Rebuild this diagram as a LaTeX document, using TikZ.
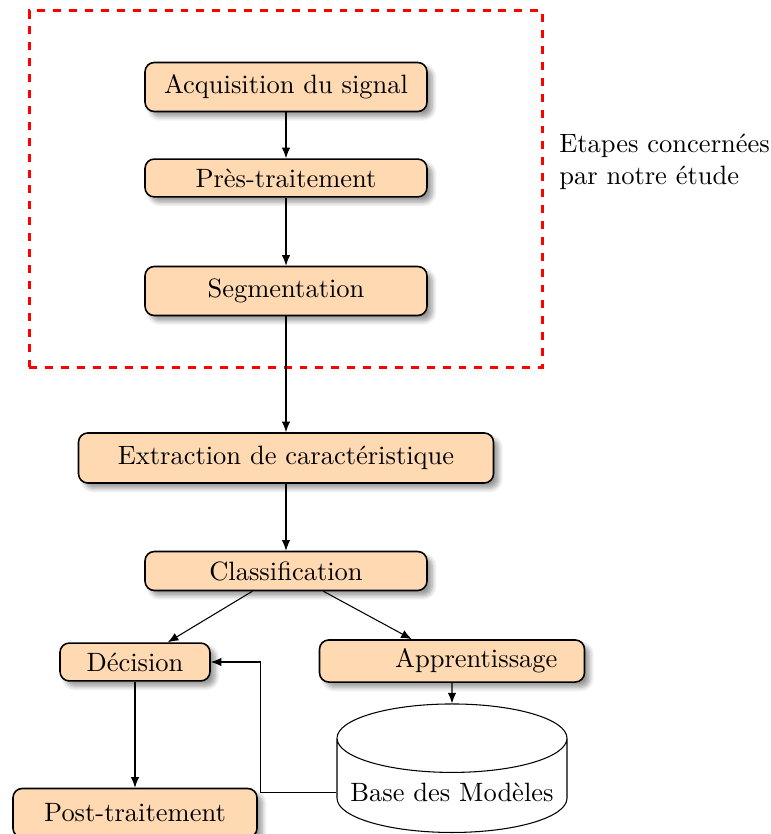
\documentclass[tikz,border=0pt]{standalone}
\usepackage{amsmath,amssymb}
\usepackage{tikz}
\usetikzlibrary{calc,arrows.meta,fit,shapes.geometric,shadows.blur}

\tikzset{
  etape/.style={draw,semithick,rounded corners=3.5pt,fill=orange!30,
    blur shadow={shadow xshift=2pt,shadow yshift=-2pt,shadow blur steps=6}},
  fleche/.style={-{Latex[length=4pt,width=3.2pt]}}
}

\begin{document}
\begin{tikzpicture}[x=0.3774pt,y=-0.3774pt]
  \useasboundingbox (0,0) rectangle (771,834);
  % etapes du traitement
  \node[etape,minimum width=106.4pt,minimum height=18.5pt] (acq) at (286,87) {Acquisition du signal};
  \node[etape,minimum width=106.4pt,minimum height=14.3pt] (pretr) at (286,178) {Près-traitement};
  \node[etape,minimum width=106.4pt,minimum height=18.5pt] (seg) at (286,291) {Segmentation};
  \node[etape,minimum width=156.6pt,minimum height=18.9pt] (extr) at (286,458) {Extraction de caractéristique};
  \node[etape,minimum width=106.4pt,minimum height=14.7pt] (classif) at (286,571) {Classification};
  \node[etape,minimum width=56.6pt,minimum height=14.3pt] (decision) at (135,662) {Décision};
  \node[etape,text width=79.6pt,align=right,inner xsep=10.2pt,minimum height=15.5pt] (appr) at (452,661) {Apprentissage};
  \node[etape,minimum width=92.1pt,minimum height=18.5pt] (post) at (135,813) {Post-traitement};
  \node[draw,cylinder,shape border rotate=90,aspect=0.31,fill=white,anchor=south,
    minimum width=86.8pt,minimum height=48.5pt] (base) at (452,833) {Base des Modèles};
  % zone de l'etude
  \node[draw=red,dashed,very thick,fit=(acq)(seg),inner xsep=43.4pt,inner ysep=19.2pt] (etude) {};
  \node[anchor=west,align=left] (note) at (550,162) {Etapes concernées\\par notre étude};
  % liaisons
  \foreach \a/\b in {acq/pretr,pretr/seg,seg/extr,extr/classif,classif/decision,classif/appr,decision/post}
    \draw[fleche] (\a) -- (\b);
  \draw[fleche] (appr.south) -- (base.north);
  \draw[fleche] (base.west) -- ++(-76,0) |- (decision.east);
\end{tikzpicture}
\end{document}
